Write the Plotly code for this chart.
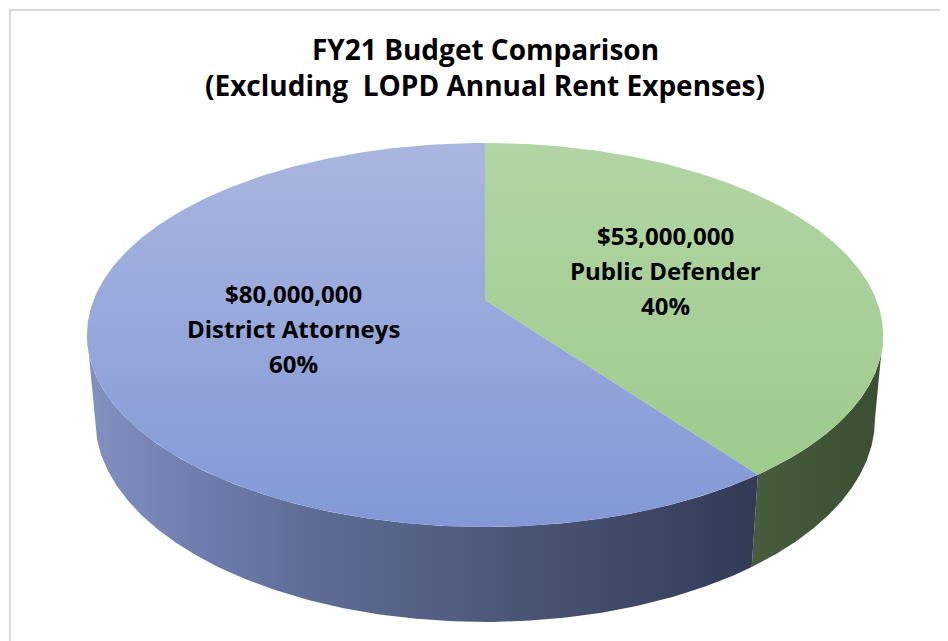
import numpy as np
import plotly.graph_objects as go

# ---- data ----
categories = ["Public Defender", "District Attorneys"]
budgets = [53000000, 80000000]
title_lines = ["FY21 Budget Comparison", "(Excluding  LOPD Annual Rent Expenses)"]

# ---- styling / geometry (3-D tilted pie projected with perspective) ----
W, H = 948, 641
OFF = 8                      # page body margin
CX, CY = 485.0, 300.0        # projected pie centre (top face)
A, B = 391.4, 185.6          # radius scale (horizontal / vertical)
P, Q, DEPTH = 0.182, 0.02, 84.2
FONT = "Open Sans"

top_cols = [("#B2D5A3", "#9BC989"), ("#A9B6DF", "#8298D6")]
wall_scales = [
    [[0, "#465C3C"], [1, "#3B4F33"]],
    [[0, "#8391C1"], [0.16, "#6F7EAF"], [0.32, "#5F6E98"], [0.62, "#4C5878"], [1, "#333A56"]],
]


def top_pt(t):
    u, v = np.sin(t), np.cos(t)
    g = 1 + P * v
    return CX + A * u / g, CY - B * v / g


def bot_pt(t):
    u, v = np.sin(t), np.cos(t)
    g = 1 + P * v + Q
    return CX + A * u / g, CY - (B * v - DEPTH) / g


def extreme(fn, lo, hi, side):
    ts = np.linspace(lo, hi, 4001)
    xs = fn(ts)[0]
    return ts[np.argmax(xs)] if side > 0 else ts[np.argmin(xs)]


total = sum(budgets)
fracs = [b / total for b in budgets]
bounds = np.concatenate([[0], np.cumsum(fracs)]) * 2 * np.pi

t_rt = extreme(top_pt, 0, np.pi, 1)
t_rb = extreme(bot_pt, 0, np.pi, 1)
t_lt = extreme(top_pt, np.pi, 2 * np.pi, -1)
t_lb = extreme(bot_pt, np.pi, 2 * np.pi, -1)

fig = go.Figure()

# walls (visible front part of the cylinder side)
for i in range(len(budgets)):
    a0, a1 = bounds[i], bounds[i + 1]
    ts0 = max(a0, t_rt); te0 = min(a1, t_lt)
    ts1 = max(a0, t_rb); te1 = min(a1, t_lb)
    if te0 <= ts0:
        continue
    tt = np.linspace(ts0, te0, 200)
    tb = np.linspace(ts1, te1, 200)[::-1]
    xt, yt = top_pt(tt)
    xb, yb = bot_pt(tb)
    xs = np.concatenate([xt, xb, xt[:1]])
    ys = np.concatenate([yt, yb, yt[:1]])
    fig.add_trace(go.Scatter(
        x=xs, y=ys, mode="lines", line=dict(width=0), fill="toself",
        fillgradient=dict(type="horizontal", colorscale=wall_scales[i],
                          start=float(xs.min()), stop=float(xs.max())),
        hoverinfo="skip", showlegend=False))

# top faces
ytop = top_pt(0.0)[1]
ybot = top_pt(np.pi)[1]
for i in range(len(budgets)):
    a0, a1 = bounds[i], bounds[i + 1]
    tt = np.linspace(a0, a1, 300)
    xt, yt = top_pt(tt)
    xs = np.concatenate([[CX], xt, [CX]])
    ys = np.concatenate([[CY], yt, [CY]])
    fig.add_trace(go.Scatter(
        x=xs, y=ys, mode="lines", line=dict(width=0), fill="toself",
        fillgradient=dict(type="vertical",
                          colorscale=[[0, top_cols[i][0]], [1, top_cols[i][1]]],
                          start=float(ytop), stop=float(ybot)),
        hoverinfo="skip", showlegend=False, name=categories[i]))

annotations = []
# labels
for i in range(len(budgets)):
    mid = (bounds[i] + bounds[i + 1]) / 2
    u, v = 0.5 * np.sin(mid), 0.5 * np.cos(mid)
    g = 1 + P * v
    lx, ly = CX + A * u / g, CY - B * v / g
    lines = [f"${budgets[i]:,.0f}", categories[i], f"{fracs[i] * 100:.0f}%"]
    for k, s in enumerate(lines):
        annotations.append(dict(
            x=lx, y=ly - 1, xref="x", yref="y", text=f"<b>{s}</b>", showarrow=False,
            yshift=(1 - k) * 35, font=dict(family=FONT, size=24, color="#000000"),
            xanchor="center", yanchor="middle"))

for k, s in enumerate(title_lines):
    annotations.append(dict(
        x=485, y=49 + 36 * k, xref="x", yref="y",
        text="<b>" + s.replace("  ", "\u00a0 ") + "</b>", showarrow=False,
        font=dict(family=FONT, size=28, color="#000000"),
        xanchor="center", yanchor="middle"))

fig.update_layout(
    width=W - OFF, height=H - OFF, margin=dict(l=0, r=0, t=0, b=0),
    paper_bgcolor="white", plot_bgcolor="white",
    xaxis=dict(range=[OFF, W], visible=False, fixedrange=True),
    yaxis=dict(range=[H, OFF], visible=False, fixedrange=True),
    annotations=annotations,
    shapes=[dict(type="rect", xref="x", yref="y", x0=10, y0=10, x1=W + 20, y1=H + 20,
                 line=dict(color="#D9D9D9", width=2), layer="below")],
    showlegend=False,
)

fig.write_html("out.html")
